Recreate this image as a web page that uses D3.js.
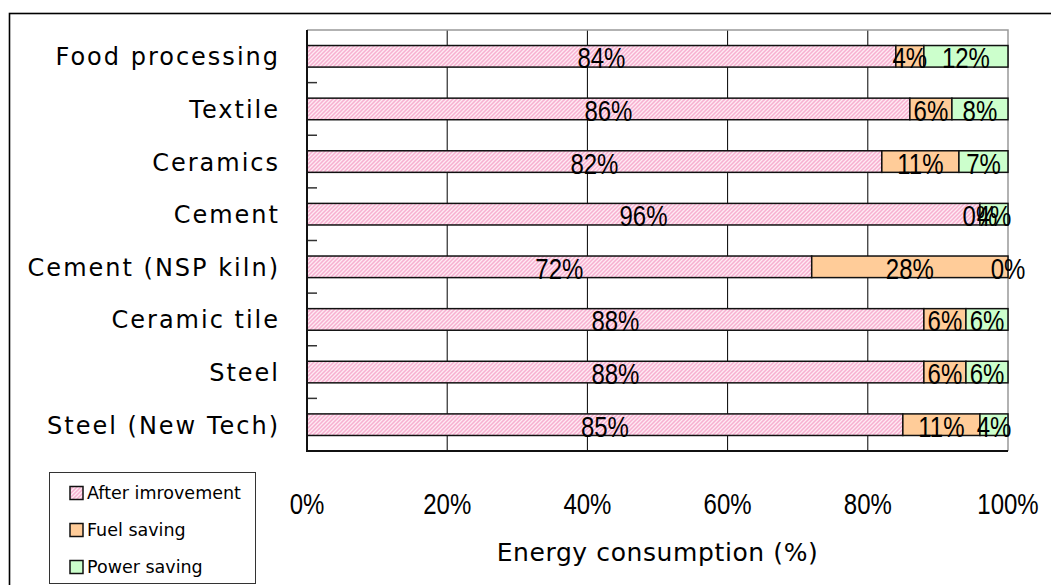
<!DOCTYPE html>
<html>
<head>
<meta charset="utf-8">
<script src="https://cdn.jsdelivr.net/npm/d3@7"></script>
<style>
  html, body { margin: 0; padding: 0; background: #fff; }
  svg { display: block; }
</style>
</head>
<body>
<svg id="chart" width="1051" height="585"></svg>
<script>
// Sectors, top to bottom
const categories = [
  "Food processing", "Textile", "Ceramics", "Cement",
  "Cement (NSP kiln)", "Ceramic tile", "Steel", "Steel (New Tech)"
];
// Share of energy consumption per sector (%)
const afterImprovement = [84, 86, 82, 96, 72, 88, 88, 85];
const fuelSaving       = [4, 6, 11, 0, 28, 6, 6, 11];
const powerSaving      = [12, 8, 7, 4, 0, 6, 6, 4];
const seriesNames = ["After imrovement", "Fuel saving", "Power saving"];
const xTicks = [0, 20, 40, 60, 80, 100];
const xTickLabels = ["0%", "20%", "40%", "60%", "80%", "100%"];
const axisTitle = "Energy consumption (%)";

const svg = d3.select("#chart");
const plot = { left: 307, right: 1008, top: 30, bottom: 451 };
const numFont = "'Liberation Sans', Arial, sans-serif";
const textFont = "'DejaVu Sans', sans-serif";
const numSqueeze = 0.8; // narrow numeral look

// Hatched pink fill for the first series
const defs = svg.append("defs");
const pat = defs.append("pattern")
  .attr("id", "hatchPink")
  .attr("patternUnits", "userSpaceOnUse")
  .attr("width", 4).attr("height", 4);
pat.append("rect").attr("width", 4).attr("height", 4).attr("fill", "#ffeaf3");
pat.append("path")
  .attr("d", "M-1,1 l2,-2 M0,4 l4,-4 M3,5 l2,-2")
  .attr("stroke", "#f7b0d0").attr("stroke-width", 1.5);

const fills = ["url(#hatchPink)", "#ffcc99", "#ccffcc"];

// Outer chart frame
svg.append("rect")
  .attr("x", 9.5).attr("y", 13.5)
  .attr("width", 1100).attr("height", 700)
  .attr("fill", "none").attr("stroke", "#000").attr("stroke-width", 1.6);

const x = d3.scaleLinear().domain([0, 100]).range([plot.left, plot.right]);
const y = d3.scaleBand().domain(categories)
  .range([plot.top, plot.bottom])
  .paddingInner(0.59).paddingOuter(0.295);

// Vertical gridlines
svg.append("g")
  .selectAll("line")
  .data(xTicks.filter(t => t > 0 && t < 100))
  .join("line")
  .attr("x1", d => x(d)).attr("x2", d => x(d))
  .attr("y1", plot.top).attr("y2", plot.bottom)
  .attr("stroke", "#000").attr("stroke-width", 1);

// Plot frame: grey top/right, dark axis lines left/bottom
svg.append("path")
  .attr("d", `M${plot.left},${plot.top}H${plot.right}V${plot.bottom}`)
  .attr("fill", "none").attr("stroke", "#999").attr("stroke-width", 1.5);

// Stacked bars
const rows = categories.map((c, i) => ({
  cat: c, a: afterImprovement[i], f: fuelSaving[i], p: powerSaving[i]
}));
const stack = d3.stack().keys(["a", "f", "p"]);
const layers = stack(rows);

const bars = svg.append("g");
layers.forEach((layer, li) => {
  bars.append("g")
    .selectAll("rect")
    .data(layer)
    .join("rect")
    .attr("x", d => x(d[0]))
    .attr("y", d => y(d.data.cat))
    .attr("width", d => x(d[1]) - x(d[0]))
    .attr("height", y.bandwidth())
    .attr("fill", fills[li])
    .attr("stroke", "#111").attr("stroke-width", 1.5);
});

// Value labels centred in each segment
layers.forEach(layer => {
  svg.append("g")
    .selectAll("text")
    .data(layer)
    .join("text")
    .attr("transform", d =>
      `translate(${x((d[0] + d[1]) / 2)},${y(d.data.cat) + y.bandwidth() / 2 + 12}) scale(${numSqueeze},1)`)
    .attr("text-anchor", "middle")
    .attr("font-family", numFont)
    .attr("font-size", 30)
    .attr("fill", "#000")
    .text(d => `${d[1] - d[0]}%`);
});

// Y axis inner ticks at category boundaries
const step = y.step();
svg.append("g")
  .selectAll("line")
  .data(categories.slice(1))
  .join("line")
  .attr("x1", plot.left).attr("x2", plot.left + 10)
  .attr("y1", d => y(d) - step * y.paddingInner() / 2)
  .attr("y2", d => y(d) - step * y.paddingInner() / 2)
  .attr("stroke", "#333").attr("stroke-width", 1.5);

svg.append("path")
  .attr("d", `M${plot.left},${plot.top}V${plot.bottom}H${plot.right}`)
  .attr("fill", "none").attr("stroke", "#111").attr("stroke-width", 2);

// Category labels
svg.append("g")
  .selectAll("text")
  .data(categories)
  .join("text")
  .attr("x", 280)
  .attr("y", d => y(d) + y.bandwidth() / 2 + 9)
  .attr("text-anchor", "end")
  .attr("font-family", textFont)
  .attr("font-size", 24)
  .attr("letter-spacing", 2)
  .attr("fill", "#000")
  .text(d => d);

// X tick labels
svg.append("g")
  .selectAll("text")
  .data(xTicks)
  .join("text")
  .attr("transform", d => `translate(${x(d)},514) scale(${numSqueeze},1)`)
  .attr("text-anchor", "middle")
  .attr("font-family", numFont)
  .attr("font-size", 30)
  .attr("fill", "#000")
  .text((d, i) => xTickLabels[i]);

// X axis title
svg.append("text")
  .attr("x", (plot.left + plot.right) / 2)
  .attr("y", 561)
  .attr("text-anchor", "middle")
  .attr("font-family", textFont)
  .attr("font-size", 25)
  .attr("letter-spacing", 0.6)
  .attr("fill", "#000")
  .text(axisTitle);

// Legend
const lg = svg.append("g");
lg.append("rect")
  .attr("x", 49.5).attr("y", 472.5)
  .attr("width", 206).attr("height", 111)
  .attr("fill", "#fff").attr("stroke", "#333").attr("stroke-width", 1);
seriesNames.forEach((name, i) => {
  const cy = 493 + i * 37;
  lg.append("rect")
    .attr("x", 70).attr("y", cy - 6.5)
    .attr("width", 13).attr("height", 13)
    .attr("fill", fills[i]).attr("stroke", "#111").attr("stroke-width", 1.5);
  lg.append("text")
    .attr("x", 87).attr("y", cy + 6)
    .attr("font-family", textFont)
    .attr("font-size", 17.5)
    .attr("fill", "#000")
    .text(name);
});
</script>
</body>
</html>
